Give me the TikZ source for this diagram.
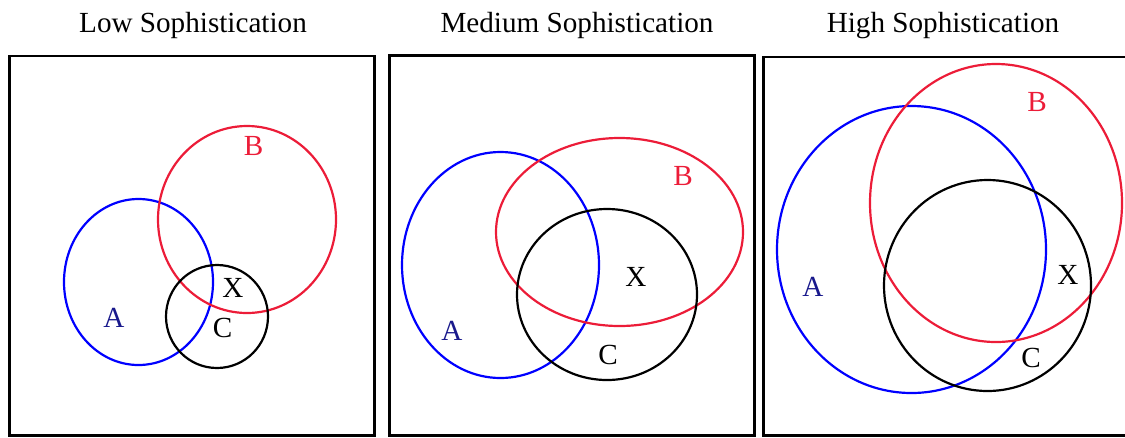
\documentclass[tikz,border=0pt]{standalone}
\usepackage{fontspec}
\setmainfont{Liberation Serif}
\usetikzlibrary{positioning}
\definecolor{setblue}{RGB}{0,0,255}
\definecolor{setred}{RGB}{236,28,56}
\definecolor{labblue}{RGB}{25,25,140}

\begin{document}
\begin{tikzpicture}[x=0.02cm, y=-0.02cm, font=\fontsize{16.6}{19}\selectfont,
  panel/.style={line width=1.7pt},
  seta/.style={draw=setblue, line width=1.25pt},
  setb/.style={draw=setred, line width=1.25pt},
  setc/.style={draw=black, line width=1.25pt},
  title/.style={anchor=base, inner sep=0pt}]
  \useasboundingbox (0,0) rectangle (1125,437);
  % low sophistication
  \node[title] (tlow) at (193,32) {Low Sophistication};
  \draw[panel] (9.5,56) rectangle (374.7,435);
  \draw[seta] (138.5,282) ellipse [x radius=74.5, y radius=83];
  \draw[setb] (247,219.5) ellipse [x radius=89, y radius=93.5];
  \draw[setc] (217,316.5) ellipse [x radius=51, y radius=51.5];
  \node[text=labblue] (alow) at (114,318) {A};
  \node[text=setred] (blow) at (253.5,146) {B};
  \node (xlow) at (233,287.5) {X};
  \node (clow) at (222.5,328) {C};
  % medium sophistication
  \node[title] (tmed) at (577,32) {Medium Sophistication};
  \draw[panel] (389.5,55.3) rectangle (754.5,435);
  \draw[seta] (500.5,265) ellipse [x radius=98.5, y radius=113];
  \draw[setb] (619.5,232) ellipse [x radius=123.5, y radius=94];
  \draw[setc] (607,294.5) ellipse [x radius=90, y radius=85.5];
  \node[text=labblue] (amed) at (452,330.5) {A};
  \node[text=setred] (bmed) at (683,175.5) {B};
  \node (xmed) at (636,276.5) {X};
  \node (cmed) at (608,355) {C};
  % high sophistication
  \node[title] (thigh) at (943,32) {High Sophistication};
  \draw[panel] (763.5,57) rectangle (1130,435);
  \draw[seta] (911.5,249.5) ellipse [x radius=134.5, y radius=143.5];
  \draw[setb] (996,203) ellipse [x radius=126, y radius=139];
  \draw[setc] (987.5,285.5) ellipse [x radius=103.5, y radius=105.5];
  \node[text=labblue] (ahigh) at (813,287) {A};
  \node[text=setred] (bhigh) at (1037,101.5) {B};
  \node (xhigh) at (1068,274.5) {X};
  \node (chigh) at (1031,358) {C};
\end{tikzpicture}
\end{document}
